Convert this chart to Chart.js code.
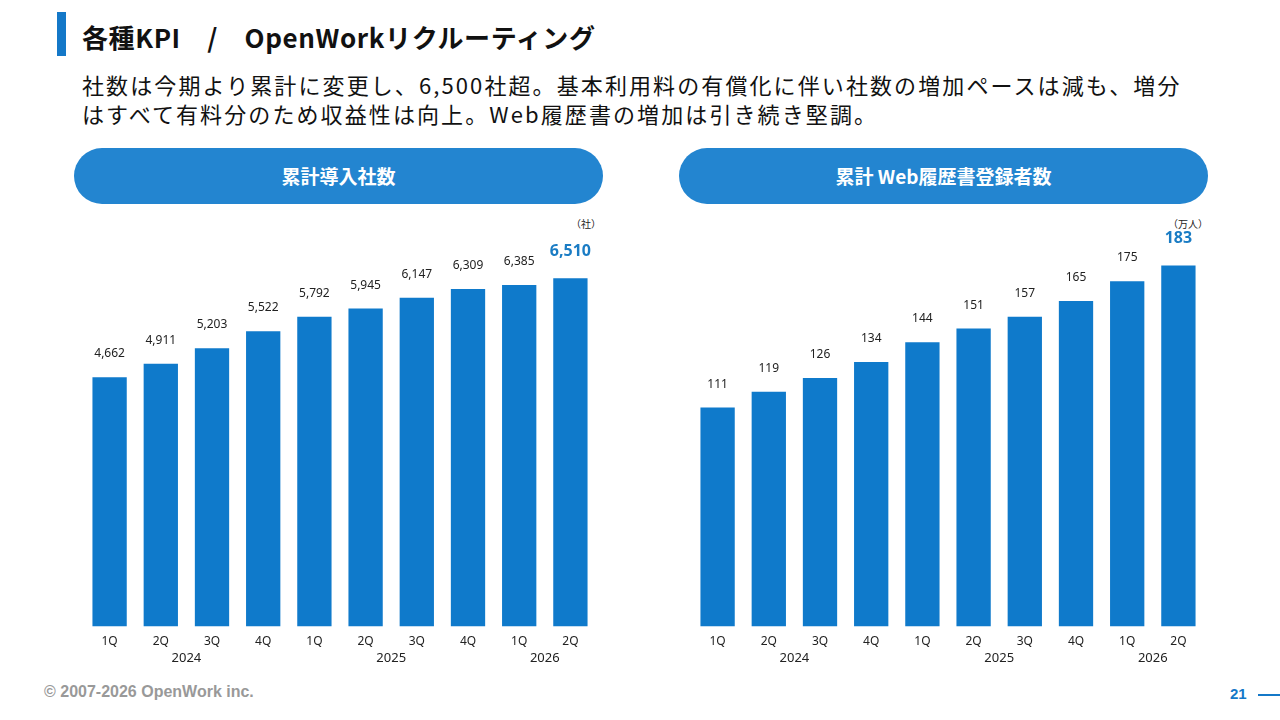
<!DOCTYPE html>
<html lang="ja">
<head>
<meta charset="UTF-8" />
<script src="https://cdn.jsdelivr.net/npm/chart.js"></script>
<style>
  body { margin:0; width:1280px; height:720px; position:relative; overflow:hidden; background:#fff;
         font-family:"Noto Sans CJK JP","Noto Sans",sans-serif; color:#111; }
  .mark { position:absolute; left:57px; top:12px; width:9px; height:44px; background:#1478c8; }
  .title { position:absolute; left:82px; top:18px; font-size:26px; font-weight:bold; letter-spacing:0.6px; }
  .sub { position:absolute; left:82px; top:70px; font-size:22px; line-height:29px; letter-spacing:2.1px; white-space:nowrap; }
  .pill { position:absolute; top:148px; height:56px; width:529px; border-radius:28px; background:#2385d0;
          color:#fff; font-weight:bold; font-size:19px; text-align:center; line-height:56px; }
  .box { position:absolute; top:210px; width:544px; height:470px; }
  .unit { position:absolute; font-size:10px; color:#222; }
  .foot { position:absolute; left:44px; top:683px; font-size:16px; font-weight:bold; color:#999;
          font-family:"Liberation Sans",Arial,sans-serif; }
  .page { position:absolute; left:1230px; top:685px; font-size:15px; font-weight:bold; color:#1478c8;
          font-family:"Liberation Sans",Arial,sans-serif; }
  .line { position:absolute; left:1258px; top:694px; width:22px; height:2px; background:#1478c8; }
</style>
</head>
<body>
<div class="mark"></div>
<div class="title">各種KPI　/　OpenWorkリクルーティング</div>
<div class="sub">社数は今期より累計に変更し、6,500社超。基本利用料の有償化に伴い社数の増加ペースは減も、増分<br>はすべて有料分のため収益性は向上。Web履歴書の増加は引き続き堅調。</div>
<div class="pill" style="left:74px">累計導入社数</div>
<div class="pill" style="left:679px">累計 Web履歴書登録者数</div>
<div class="unit" style="left:571px;top:216px">（社）</div>
<div class="unit" style="left:1168px;top:216px">（万人）</div>
<div class="box" style="left:68px"><canvas id="c1"></canvas></div>
<div class="box" style="left:676px"><canvas id="c2"></canvas></div>
<div class="foot">© 2007-2026 OpenWork inc.</div>
<div class="page">21</div>
<div class="line"></div>
<script>
const quarters = ['1Q','2Q','3Q','4Q','1Q','2Q','3Q','4Q','1Q','2Q'];
const years = [['2024', 1.5], ['2025', 5.5], ['2026', 8.5]];
const companies = [4662, 4911, 5203, 5522, 5792, 5945, 6147, 6309, 6385, 6510];
const resumes = [111, 119, 126, 134, 144, 151, 157, 165, 175, 183];
const barColor = '#0f7acb';

const labelPlugin = {
  id: 'labels',
  afterDatasetsDraw(chart) {
    const ctx = chart.ctx;
    const meta = chart.getDatasetMeta(0);
    const data = chart.data.datasets[0].data;
    ctx.save();
    ctx.textAlign = 'center';
    meta.data.forEach((bar, i) => {
      const last = i === data.length - 1;
      ctx.fillStyle = last ? '#1a7cc4' : '#222';
      ctx.font = (last ? 'bold 16px' : '12px') + ' "Noto Sans", sans-serif';
      ctx.fillText(data[i].toLocaleString('en-US'), bar.x, bar.y - (last ? 22 : 20));
    });
    const x = chart.scales.x;
    ctx.fillStyle = '#222';
    ctx.font = '13px "Noto Sans", sans-serif';
    years.forEach(([t, v]) => ctx.fillText(t, x.getPixelForValue(v), x.bottom + 13));
    ctx.restore();
  }
};

function makeChart(id, values, max) {
  new Chart(document.getElementById(id), {
    type: 'bar',
    data: { labels: quarters, datasets: [{ data: values, backgroundColor: barColor,
            barPercentage: 0.67, categoryPercentage: 1 }] },
    options: {
      responsive: true, maintainAspectRatio: false, animation: false,
      layout: { padding: { left: 16, right: 16, top: 10, bottom: 31 } },
      plugins: { legend: { display: false }, tooltip: { enabled: false } },
      scales: {
        x: { grid: { display: false }, border: { display: false },
             ticks: { color: '#222', font: { size: 12, family: 'Noto Sans' }, padding: 0 } },
        y: { display: false, min: 0, max: max }
      }
    },
    plugins: [labelPlugin]
  });
}
makeChart('c1', companies, 7600);
makeChart('c2', resumes, 206);
</script>
</body>
</html>
